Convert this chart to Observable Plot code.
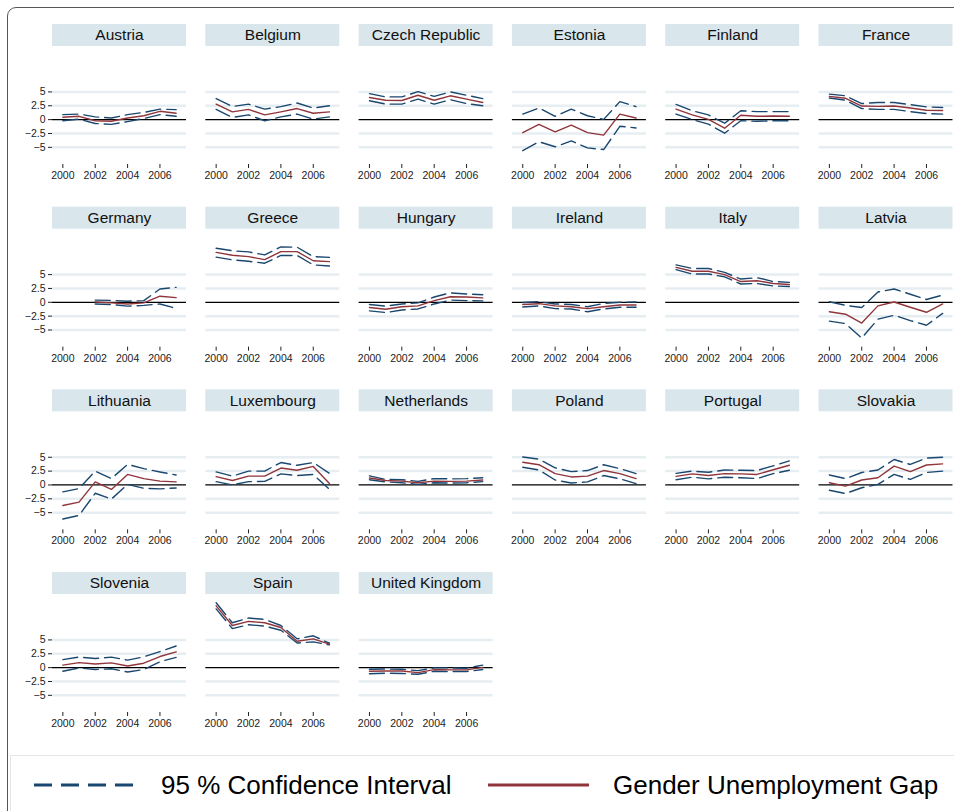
<!DOCTYPE html>
<html>
<head>
<meta charset="utf-8">
<script src="https://cdn.jsdelivr.net/npm/d3@7"></script>
<script src="https://cdn.jsdelivr.net/npm/@observablehq/plot@0.6"></script>
<style>
  html, body { margin: 0; padding: 0; background: #fff; }
  body { width: 954px; height: 811px; position: relative; overflow: hidden; font-family: "Liberation Sans", Arial, sans-serif; }
  #border { position: absolute; left: 7px; top: 7px; width: 980px; height: 840px; border: 1.5px solid #555; border-radius: 9px; box-sizing: border-box; }
  #chart { position: absolute; left: 0; top: 0; }
  #legend { position: absolute; left: 10px; top: 755px; width: 980px; height: 80px; border: 1px solid #e2e6e8; background: #fff; box-sizing: border-box; }
  #legend .sw { position: absolute; top: 22px; }
  #legend .lab { position: absolute; top: 16px; font-size: 26px; line-height: 26px; color: #000; white-space: nowrap; }
</style>
</head>
<body>
<div id="border"></div>
<div id="chart"></div>
<div id="legend">
  <svg class="sw" style="left:23px" width="110" height="14"><line x1="0" y1="7" x2="107" y2="7" stroke="#1a476f" stroke-width="3" stroke-dasharray="18,9"/></svg>
  <div class="lab" style="left:150px">95 % Confidence Interval</div>
  <svg class="sw" style="left:477px" width="104" height="14"><line x1="0" y1="7" x2="101" y2="7" stroke="#90353b" stroke-width="3"/></svg>
  <div class="lab" style="left:602px">Gender Unemployment Gap</div>
</div>
<script>
// Gender unemployment gap (percentage points) by country, 2000–2007,
// with the bounds of its 95 % confidence interval.
const countries = [
  "Austria", "Belgium", "Czech Republic", "Estonia", "Finland", "France",
  "Germany", "Greece", "Hungary", "Ireland", "Italy", "Latvia",
  "Lithuania", "Luxembourg", "Netherlands", "Poland", "Portugal", "Slovakia",
  "Slovenia", "Spain", "United Kingdom"
];
const years = [2000, 2001, 2002, 2003, 2004, 2005, 2006, 2007];

const gap = [
  [0.42, 0.6, -0.2, -0.3, 0.3, 0.7, 1.5, 1.15],
  [2.8, 1.4, 1.85, 0.85, 1.4, 2.0, 1.15, 1.4],
  [4.0, 3.5, 3.45, 4.4, 3.5, 4.3, 3.7, 3.1],
  [-2.35, -0.85, -2.2, -1.0, -2.35, -2.8, 1.0, 0.3],
  [1.9, 0.85, 0.05, -1.55, 0.8, 0.6, 0.65, 0.6],
  [4.2, 3.85, 2.45, 2.4, 2.45, 2.1, 1.7, 1.65],
  [null, null, 0.05, -0.1, -0.3, -0.1, 1.1, 0.85],
  [9.0, 8.5, 8.25, 7.7, 9.15, 9.15, 7.5, 7.35],
  [-0.95, -1.25, -0.8, -0.65, 0.3, 1.0, 0.95, 0.8],
  [-0.4, -0.25, -0.65, -0.8, -1.15, -0.8, -0.5, -0.5],
  [6.3, 5.6, 5.6, 5.0, 3.75, 3.9, 3.4, 3.2],
  [-1.7, -2.15, -3.75, -0.65, 0.05, -0.9, -1.8, -0.3],
  [-3.7, -3.1, 0.55, -0.8, 1.9, 1.15, 0.7, 0.55],
  [1.5, 0.8, 1.6, 1.6, 3.05, 2.65, 3.35, 0.25],
  [1.25, 0.8, 0.7, 0.4, 0.7, 0.65, 0.7, 0.9],
  [4.1, 3.65, 2.05, 1.45, 1.6, 2.6, 2.05, 1.15],
  [1.55, 2.0, 1.7, 2.05, 2.0, 1.9, 2.75, 3.55],
  [0.4, -0.2, 0.9, 1.3, 3.4, 2.4, 3.6, 3.8],
  [0.45, 0.9, 0.65, 0.85, 0.3, 0.8, 2.0, 2.85],
  [11.15, 7.6, 8.35, 8.1, 7.25, 4.75, 5.2, 4.25],
  [-0.65, -0.6, -0.6, -0.9, -0.35, -0.4, -0.4, 0.05]
];

const upper = [
  [0.9, 1.0, 0.5, 0.3, 0.9, 1.3, 1.9, 1.8],
  [3.8, 2.35, 2.8, 1.9, 2.35, 3.0, 2.1, 2.5],
  [4.7, 4.1, 4.1, 5.05, 4.2, 5.0, 4.4, 3.8],
  [1.0, 2.1, 0.6, 1.9, 0.7, 0.05, 3.25, 2.35],
  [2.75, 1.6, 0.85, -0.65, 1.6, 1.45, 1.45, 1.45],
  [4.6, 4.3, 2.9, 3.1, 3.1, 2.7, 2.3, 2.2],
  [null, null, 0.4, 0.35, 0.2, 0.3, 2.4, 2.7],
  [9.75, 9.3, 9.1, 8.55, 10.0, 9.95, 8.25, 8.1],
  [-0.4, -0.7, -0.3, -0.1, 0.95, 1.7, 1.5, 1.35],
  [-0.05, 0.1, -0.3, -0.4, -0.8, -0.2, 0.0, 0.05],
  [6.75, 6.1, 6.1, 5.4, 4.2, 4.45, 3.75, 3.6],
  [0.1, -0.55, -0.95, 1.85, 2.4, 1.45, 0.5, 1.3],
  [-1.25, -0.65, 2.5, 1.15, 3.7, 2.95, 2.35, 1.8],
  [2.35, 1.6, 2.5, 2.5, 4.05, 3.55, 4.05, 2.1],
  [1.65, 1.0, 0.95, 0.65, 1.15, 1.1, 1.15, 1.3],
  [5.05, 4.65, 3.1, 2.4, 2.6, 3.65, 2.95, 2.05],
  [2.1, 2.5, 2.3, 2.7, 2.65, 2.6, 3.45, 4.35],
  [1.8, 1.15, 2.25, 2.7, 4.6, 3.7, 4.85, 5.0],
  [1.45, 1.9, 1.65, 1.9, 1.35, 1.95, 2.9, 3.9],
  [11.7, 8.1, 8.95, 8.7, 7.6, 5.2, 5.75, 4.4],
  [-0.3, -0.25, -0.3, -0.55, -0.05, -0.05, -0.1, 0.45]
];

const lower = [
  [-0.2, 0.1, -0.7, -0.85, -0.35, 0.2, 0.9, 0.6],
  [1.85, 0.4, 0.85, -0.2, 0.5, 1.0, 0.1, 0.5],
  [3.4, 2.8, 2.8, 3.7, 2.8, 3.6, 2.9, 2.5],
  [-5.6, -4.0, -4.9, -3.85, -5.1, -5.4, -1.2, -1.5],
  [1.0, 0.0, -0.8, -2.45, -0.2, -0.3, -0.2, -0.2],
  [3.9, 3.5, 2.0, 1.85, 1.85, 1.45, 1.1, 1.0],
  [null, null, -0.3, -0.4, -0.7, -0.55, -0.3, -1.1],
  [8.15, 7.65, 7.4, 7.05, 8.45, 8.45, 6.75, 6.55],
  [-1.55, -1.85, -1.4, -1.2, -0.3, 0.4, 0.3, 0.25],
  [-0.85, -0.65, -1.15, -1.2, -1.7, -1.2, -0.9, -0.9],
  [5.9, 5.1, 5.1, 4.6, 3.3, 3.4, 2.95, 2.85],
  [-3.4, -3.85, -6.45, -3.05, -2.35, -3.3, -4.15, -2.0],
  [-6.15, -5.5, -1.5, -2.55, 0.1, -0.6, -0.7, -0.55],
  [0.6, 0.0, 0.6, 0.65, 2.0, 1.7, 1.9, -0.8],
  [0.95, 0.55, 0.4, 0.1, 0.4, 0.35, 0.4, 0.6],
  [3.2, 2.7, 0.9, 0.35, 0.55, 1.7, 1.1, 0.25],
  [0.95, 1.4, 1.1, 1.4, 1.3, 1.15, 2.05, 2.65],
  [-0.95, -1.55, -0.5, 0.1, 1.9, 1.0, 2.25, 2.5],
  [-0.65, -0.05, -0.35, -0.2, -0.8, -0.35, 1.05, 1.85],
  [10.6, 7.05, 7.75, 7.5, 6.75, 4.45, 4.65, 4.1],
  [-1.1, -1.0, -1.05, -1.2, -0.65, -0.7, -0.7, -0.35]
];

const yTicks = [-5, -2.5, 0, 2.5, 5];
const xTicks = [2000, 2002, 2004, 2006];
const gridTicks = [-5, -2.5, 2.5, 5];

const nCols = 6;

// One row per panel, placed in a 6-column grid.
const panels = countries.map((country, i) => ({
  country, col: i % nCols, row: Math.floor(i / nCols)
}));

// Long table: one row per country and year.
const table = panels.flatMap((p, i) => years.map((year, j) => ({
  country: p.country, col: p.col, row: p.row, year,
  gap: gap[i][j], hi: upper[i][j], lo: lower[i][j]
})));

const navy = "#1a476f";
const maroon = "#90353b";
const dash = "15,6";
const facet = {fx: "col", fy: "row"};

const chart = Plot.plot({
  width: 954,
  height: 736,
  marginTop: 46,
  marginBottom: 24,
  marginLeft: 52,
  marginRight: 1.5,
  style: {fontFamily: "'Liberation Sans', Arial, sans-serif", color: "#222", background: "transparent"},
  fx: {axis: null, domain: d3.range(nCols), paddingInner: 0.126, paddingOuter: 0, round: false},
  fy: {axis: null, domain: [0, 1, 2, 3], paddingInner: 0.354, paddingOuter: 0, round: false},
  x: {domain: [1999.36, 2007.64]},
  y: {domain: [-8.1, 13.2]},
  marks: [
    // panel title strips
    Plot.rect(panels, {...facet, fill: "#d9e6ec", insetTop: -22, insetBottom: 118}),
    Plot.text(panels, {...facet, text: "country", frameAnchor: "top", lineAnchor: "middle", dy: -11, fontSize: 15.5, fill: "#111"}),
    Plot.gridY({ticks: gridTicks, stroke: "#e6eef2", strokeOpacity: 1, strokeWidth: 2.5}),
    Plot.ruleY([0], {stroke: "#000", strokeWidth: 1.2}),
    Plot.axisY({ticks: yTicks, tickFormat: (d) => String(d).replace("-", "\u2212"), tickSize: 4, tickPadding: 3, fontSize: 10.5, line: true, label: null}),
    Plot.axisX({ticks: xTicks, tickFormat: (d) => String(d), tickSize: 4, tickPadding: 3, fontSize: 10.5, line: true, label: null, facetAnchor: null}),
    Plot.line(table, {...facet, x: "year", y: "hi", stroke: navy, strokeWidth: 1.4, strokeDasharray: dash}),
    Plot.line(table, {...facet, x: "year", y: "lo", stroke: navy, strokeWidth: 1.4, strokeDasharray: dash}),
    Plot.line(table, {...facet, x: "year", y: "gap", stroke: maroon, strokeWidth: 1.4})
  ]
});

document.getElementById("chart").appendChild(chart);
</script>
</body>
</html>
